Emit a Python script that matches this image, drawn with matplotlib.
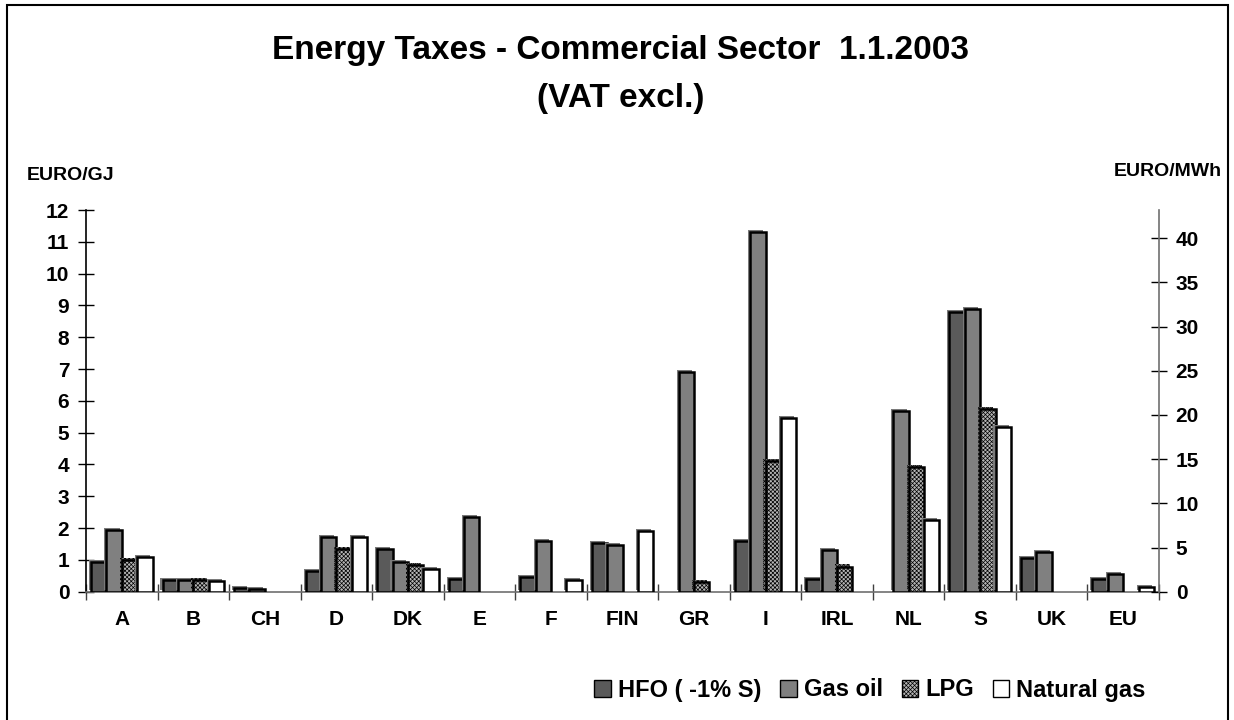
import matplotlib
matplotlib.use("Agg")
import matplotlib.pyplot as plt
import matplotlib.patches as mpatches
import matplotlib.patheffects as pe
import numpy as np

plt.rcParams['font.family'] = ['Liberation Sans', 'DejaVu Sans']
plt.rcParams['font.weight'] = 'bold'
plt.rcParams['hatch.linewidth'] = 0.5

countries = ["A", "B", "CH", "D", "DK", "E", "F", "FIN", "GR", "I", "IRL", "NL", "S", "UK", "EU"]
hfo =     [0.92, 0.38, 0.12, 0.66, 1.34, 0.40, 0.47, 1.54, 0.0, 1.60, 0.39, 0.0, 8.80, 1.05, 0.40]
gas_oil = [1.94, 0.37, 0.09, 1.73, 0.92, 2.34, 1.59, 1.46, 6.90, 11.32, 1.31, 5.68, 8.88, 1.24, 0.56]
lpg =     [1.00, 0.37, 0.0, 1.34, 0.84, 0.0, 0.0, 0.0, 0.30, 4.12, 0.79, 3.91, 5.74, 0.0, 0.0]
nat_gas = [1.10, 0.33, 0.0, 1.71, 0.70, 0.0, 0.36, 1.92, 0.0, 5.45, 0.0, 2.25, 5.19, 0.0, 0.14]
series_names = ["HFO ( -1% S)", "Gas oil", "LPG", "Natural gas"]
left_ticks = list(range(0, 13))
right_ticks = list(range(0, 45, 5))
GJ_PER_MWH = 3.6

fig = plt.figure(figsize=(12.34, 7.2), dpi=100)
ax = fig.add_axes([86/1234, 1-591.7/720, (1159-86)/1234, (591.7-210)/720])

x = np.arange(len(countries))
w = 0.215
styles = [
    dict(color="#5a5a5a", hatch=None),
    dict(color="#808080", hatch=None),
    dict(color="#b4b4b4", hatch="xxxxxxxx"),
    dict(color="#ffffff", hatch=None),
]
data = [hfo, gas_oil, lpg, nat_gas]
shadow = [pe.SimplePatchShadow(offset=(-1.5, 1.5), shadow_rgbFace="#7a7a7a", alpha=1.0), pe.Normal()]
handles = []
for i, (vals, st) in enumerate(zip(data, styles)):
    vals = np.array(vals)
    mask = vals > 0
    bars = ax.bar(x[mask] + (i - 1.5) * w, vals[mask], width=w, facecolor=st["color"],
                  edgecolor="black", linewidth=1.8, hatch=st["hatch"], zorder=3)
    for b in bars:
        b.set_path_effects(shadow)
    handles.append(mpatches.Patch(facecolor=st["color"], edgecolor="black", linewidth=1.0,
                                  hatch=st["hatch"]))

ax.set_xlim(-0.5, len(countries) - 0.5)
ax.set_ylim(0, 12)
ax.set_yticks(left_ticks)
ax.set_yticklabels([str(t) for t in left_ticks], fontsize=15, fontweight="bold")
ax.set_xticks(x)
ax.set_xticklabels(countries, fontsize=15, fontweight="bold")
ax.set_xticks(np.arange(-0.5, len(countries), 1.0), minor=True)
ax.tick_params(axis="x", which="major", length=0, pad=13)
ax.tick_params(axis="x", which="minor", direction="inout", length=12, width=1.0, color="#404040")
ax.tick_params(axis="y", direction="inout", length=12, width=1.0, pad=6)
for s in ["top", "right"]:
    ax.spines[s].set_visible(False)
ax.spines["left"].set_linewidth(1.2)
ax.spines["bottom"].set_color("#707070")
ax.spines["bottom"].set_linewidth(1.2)

ax2 = ax.twinx()
ax2.set_ylim(0, 12 * GJ_PER_MWH)
ax2.set_yticks(right_ticks)
ax2.set_yticklabels([str(t) for t in right_ticks], fontsize=15, fontweight="bold")
ax2.tick_params(axis="y", direction="inout", length=12, width=1.0, pad=6)
for s in ["top", "left", "bottom"]:
    ax2.spines[s].set_visible(False)
ax2.spines["right"].set_color("#707070")
ax2.spines["right"].set_linewidth(1.2)

fig.text(621/1234, 1-50/720, "Energy Taxes - Commercial Sector  1.1.2003", ha="center", va="center",
         fontsize=24, fontweight="bold")
fig.text(621/1234, 1-98/720, "(VAT excl.)", ha="center", va="center", fontsize=24, fontweight="bold")
fig.text(27/1234, 1-175/720, "EURO/GJ", ha="left", va="center", fontsize=14, fontweight="bold")
fig.text(1222/1234, 1-172/720, "EURO/MWh", ha="right", va="center", fontsize=14, fontweight="bold")

fig.legend(handles, series_names, ncol=4, loc="center", bbox_to_anchor=(870/1234, 1-690/720),
           frameon=False, handlelength=0.7, handleheight=0.7, handletextpad=0.3, columnspacing=0.8,
           prop=dict(size=17, weight="bold"))

border = mpatches.Rectangle((7/1234, -0.1), (1228-7)/1234, 1-4.5/720 + 0.1, transform=fig.transFigure,
                            fill=False, edgecolor="black", linewidth=1.5)
fig.patches.append(border)

fig.savefig("out.png", dpi=100)
